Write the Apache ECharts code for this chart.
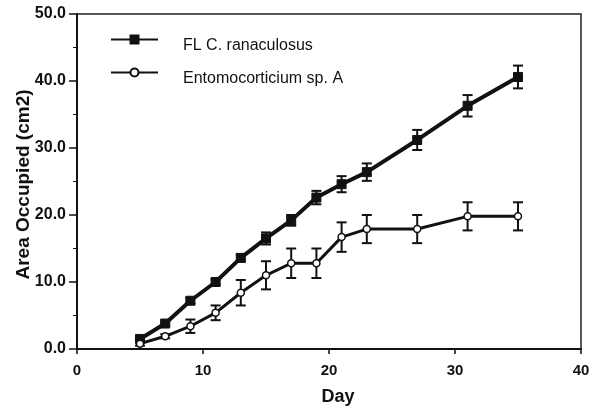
<!DOCTYPE html>
<html>
<head>
<meta charset="utf-8">
<script src="https://cdn.jsdelivr.net/npm/echarts@6/dist/echarts.min.js"></script>
<style>
  html, body { margin: 0; padding: 0; background: #fff; }
  #chart { width: 590px; height: 409px; }
</style>
</head>
<body>
<div id="chart"></div>
<script>
const days = [5, 7, 9, 11, 13, 15, 17, 19, 21, 23, 27, 31, 35];
const flMean = [1.5, 3.8, 7.2, 10.0, 13.6, 16.5, 19.2, 22.6, 24.6, 26.4, 31.2, 36.3, 40.6];
const flErr = [0.3, 0.3, 0.4, 0.4, 0.5, 0.9, 0.8, 1.0, 1.2, 1.3, 1.5, 1.6, 1.7];
const entMean = [0.8, 1.9, 3.4, 5.4, 8.4, 11.0, 12.8, 12.8, 16.7, 17.9, 17.9, 19.8, 19.8];
const entErr = [0.3, 0.3, 1.0, 1.1, 1.9, 2.1, 2.2, 2.2, 2.2, 2.1, 2.1, 2.1, 2.1];
const seriesNames = ['FL C. ranaculosus', 'Entomocorticium sp. A'];

const font = '"Liberation Sans", Arial, sans-serif';

// error bars drawn through the axes, one vertical stroke + two caps per point
function errorBars(mean, err, width) {
  return {
    type: 'custom',
    silent: true,
    z: 1,
    data: days.map((d, i) => [d, mean[i] - err[i], mean[i] + err[i]]),
    renderItem: (params, api) => {
      const lo = api.coord([api.value(0), api.value(1)]);
      const hi = api.coord([api.value(0), api.value(2)]);
      const cap = 5;
      const style = { stroke: '#111', lineWidth: width };
      return {
        type: 'group',
        children: [
          { type: 'line', shape: { x1: lo[0], y1: lo[1], x2: hi[0], y2: hi[1] }, style },
          { type: 'line', shape: { x1: lo[0] - cap, y1: lo[1], x2: lo[0] + cap, y2: lo[1] }, style },
          { type: 'line', shape: { x1: hi[0] - cap, y1: hi[1], x2: hi[0] + cap, y2: hi[1] }, style }
        ]
      };
    }
  };
}

const chart = echarts.init(document.getElementById('chart'));
chart.setOption({
  animation: false,
  backgroundColor: '#fff',
  grid: {
    left: 77, right: 9, top: 14, bottom: 60,
    outerBoundsMode: 'none',
    show: true, borderColor: '#222', borderWidth: 1.5, backgroundColor: 'transparent'
  },
  legend: {
    orient: 'vertical',
    left: 105,
    top: 20,
    itemWidth: 47,
    itemHeight: 10,
    itemGap: 4,
    data: seriesNames,
    formatter: '{t|{name}}',
    textStyle: {
      fontFamily: font, fontSize: 16, color: '#111',
      rich: { t: { fontFamily: font, fontSize: 16, color: '#111', lineHeight: 18, padding: [13, 0, 0, 20] } }
    }
  },
  xAxis: {
    type: 'value',
    min: 0,
    max: 40,
    interval: 10,
    name: 'Day',
    nameLocation: 'middle',
    nameGap: 39,
    nameTextStyle: { fontFamily: font, fontSize: 18, fontWeight: 'bold', color: '#111', padding: [0, 0, 0, 18] },
    axisLine: { lineStyle: { color: '#111', width: 2 } },
    axisTick: { length: 5, lineStyle: { color: '#111', width: 1.5 } },
    axisLabel: { fontFamily: font, fontSize: 15, fontWeight: 'bold', color: '#111', margin: 14 },
    splitLine: { show: false }
  },
  yAxis: {
    type: 'value',
    min: 0,
    max: 50,
    interval: 10,
    name: 'Area Occupied (cm2)',
    nameLocation: 'middle',
    nameGap: 44,
    nameMoveOverlap: false,
    nameTextStyle: { fontFamily: font, fontSize: 19, fontWeight: 'bold', color: '#111', padding: [0, 6, 0, 0] },
    axisLine: { show: true, lineStyle: { color: '#111', width: 2 } },
    axisTick: { show: true, length: 8, lineStyle: { color: '#111', width: 1.5 } },
    minorTick: { show: true, splitNumber: 2, length: 4, lineStyle: { color: '#111', width: 1 } },
    axisLabel: { fontFamily: font, fontSize: 16, fontWeight: 'bold', color: '#111', margin: 11,
      formatter: v => v.toFixed(1) },
    splitLine: { show: false }
  },
  series: [
    errorBars(flMean, flErr, 2),
    errorBars(entMean, entErr, 2),
    {
      name: seriesNames[0],
      type: 'line',
      z: 3,
      data: days.map((d, i) => [d, flMean[i]]),
      symbol: 'rect',
      symbolSize: 9,
      lineStyle: { color: '#111', width: 4 },
      itemStyle: { color: '#111', borderColor: '#111', borderWidth: 1 }
    },
    {
      name: seriesNames[1],
      type: 'line',
      z: 3,
      data: days.map((d, i) => [d, entMean[i]]),
      symbol: 'circle',
      symbolSize: 7,
      lineStyle: { color: '#111', width: 3 },
      itemStyle: { color: '#fff', borderColor: '#111', borderWidth: 1.5 }
    }
  ]
});
</script>
</body>
</html>
